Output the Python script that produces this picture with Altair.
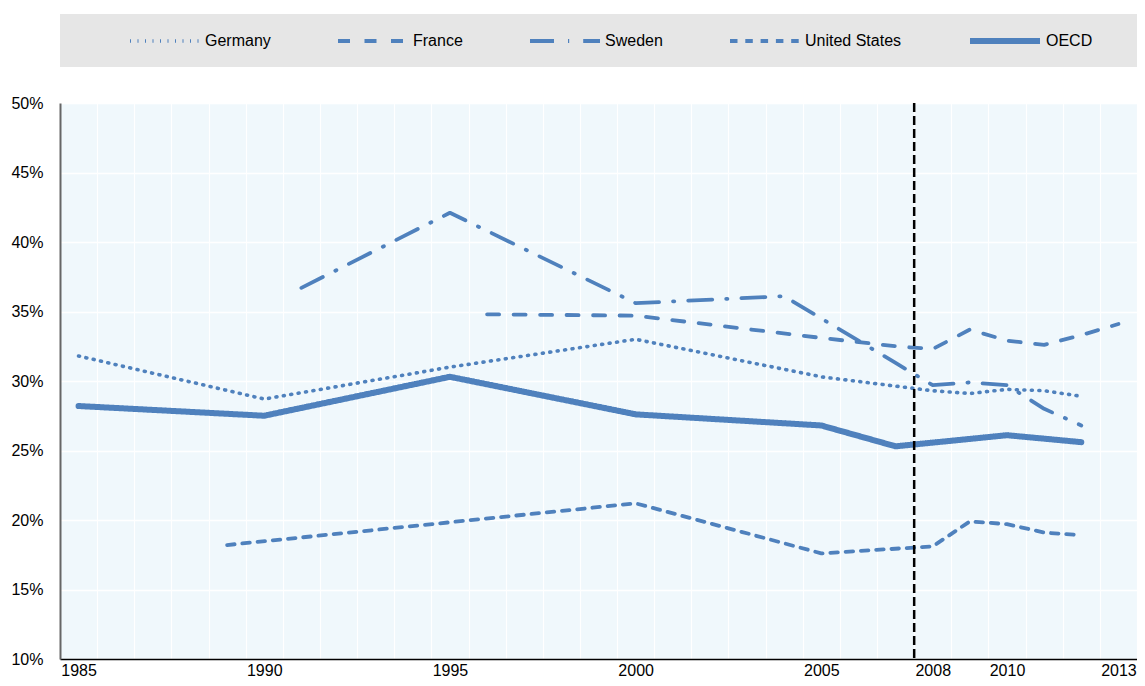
import altair as alt
import pandas as pd

# ---- data ----
all_years = [str(y) for y in range(1985, 2014)]
shown_year_labels = ["1985", "1990", "1995", "2000", "2005", "2008", "2010", "2013"]
series_names = ["Germany", "France", "Sweden", "United States", "OECD"]

germany_years = [1985, 1990, 1995, 2000, 2005, 2008, 2009, 2010, 2011, 2012]
germany_vals = [31.8, 28.7, 31.0, 33.0, 30.3, 29.3, 29.1, 29.4, 29.3, 28.9]

france_years = [1996, 2000, 2005, 2007, 2008, 2009, 2010, 2011, 2012, 2013]
france_vals = [34.8, 34.7, 33.1, 32.5, 32.3, 33.7, 32.9, 32.6, 33.3, 34.1]

sweden_years = [1991, 1995, 2000, 2004, 2007, 2008, 2009, 2010, 2011, 2012]
sweden_vals = [36.7, 42.1, 35.6, 36.1, 31.3, 29.7, 29.9, 29.7, 28.0, 26.8]

us_years = [1989, 2000, 2005, 2008, 2009, 2010, 2011, 2012]
us_vals = [18.2, 21.2, 17.6, 18.1, 19.9, 19.7, 19.1, 18.9]

oecd_years = [1985, 1990, 1995, 2000, 2005, 2007, 2010, 2012]
oecd_vals = [28.2, 27.5, 30.3, 27.6, 26.8, 25.3, 26.1, 25.6]

crisis_year = ["2008"]
y_ticks = [10, 15, 20, 25, 30, 35, 40, 45, 50]

# ---- build table ----
rows = []
for name, yrs, vals in [
    ("Germany", germany_years, germany_vals),
    ("France", france_years, france_vals),
    ("Sweden", sweden_years, sweden_vals),
    ("United States", us_years, us_vals),
    ("OECD", oecd_years, oecd_vals),
]:
    for yr, v in zip(yrs, vals):
        rows.append({"year": str(yr), "value": v, "country": name})
df = pd.DataFrame(rows)

BLUE = "#4f81bd"
FONT = "Liberation Sans"
W, H = 1077, 556

x_scale = alt.Scale(domain=all_years, paddingInner=0, paddingOuter=0)
y_scale = alt.Scale(domain=[10, 50], nice=False, zero=False)

label_list = "[" + ",".join("'%s'" % s for s in shown_year_labels) + "]"

x_axis = alt.Axis(
    title=None,
    labelExpr="indexof(%s, datum.label) >= 0 ? datum.label : ''" % label_list,
    labelAngle=0,
    labelPadding=3,
    labelFontSize=16,
    labelFont=FONT,
    labelColor="#000000",
    labelOverlap=False,
    grid=True,
    gridColor="#ffffff",
    gridWidth=1.2,
    tickBand="extent",
    ticks=False,
    domainColor="#000000",
    domainWidth=1.5,
)
y_axis = alt.Axis(
    title=None,
    values=y_ticks,
    labelExpr="datum.value + '%'",
    labelPadding=17,
    labelFontSize=16,
    labelFont=FONT,
    labelColor="#000000",
    minExtent=52,
    grid=True,
    gridColor="#ffffff",
    gridWidth=1.5,
    ticks=False,
    domainColor="#666666",
    domainWidth=2,
)

legend_cfg = dict(
    title=None,
    orient="none",
    legendX=68,
    legendY=-72,
    direction="horizontal",
    columnPadding=65,
    symbolType="stroke",
    symbolSize=4900,
    symbolStrokeColor=BLUE,
    labelOffset=3,
    labelFontSize=16,
    labelFont=FONT,
    labelColor="#000000",
    padding=0,
    clipHeight=20,
)

legend_band = (
    alt.Chart(pd.DataFrame({"band": ["legend"]}))
    .mark_rect(color="#e6e6e6")
    .encode(x=alt.value(0), x2=alt.value(W), y=alt.value(-89), y2=alt.value(-36))
)

lines = (
    alt.Chart(df)
    .mark_line(color=BLUE, strokeCap="round", strokeJoin="round")
    .encode(
        x=alt.X("year:O", scale=x_scale, axis=x_axis),
        y=alt.Y("value:Q", scale=y_scale, axis=y_axis),
        detail="country:N",
        strokeDash=alt.StrokeDash(
            "country:N",
            scale=alt.Scale(
                type="ordinal",
                domain=series_names,
                range=[[1, 6.5], [12, 14.5], [24, 14, 1.2, 14], [7.5, 7.8], [1, 0]],
            ),
            legend=alt.Legend(**legend_cfg),
        ),
        strokeWidth=alt.StrokeWidth(
            "country:N",
            scale=alt.Scale(type="ordinal", domain=series_names, range=[3.6, 3.8, 3.8, 3.8, 6]),
            legend=alt.Legend(**legend_cfg),
        ),
    )
)

crisis = (
    alt.Chart(pd.DataFrame({"year": crisis_year}))
    .mark_rule(color="#000000", strokeDash=[9, 4], strokeWidth=2.5)
    .encode(x=alt.X("year:O", bandPosition=0, scale=x_scale))
)

chart = (
    alt.layer(legend_band, lines, crisis)
    .properties(
        width=W,
        height=H,
        padding={"left": 0, "top": 6, "right": 0, "bottom": 0},
        background="#ffffff",
    )
    .configure_view(fill="#f0f8fc", stroke="transparent")
)

chart.save("out.html", embed_options={"renderer": "svg", "actions": False})
